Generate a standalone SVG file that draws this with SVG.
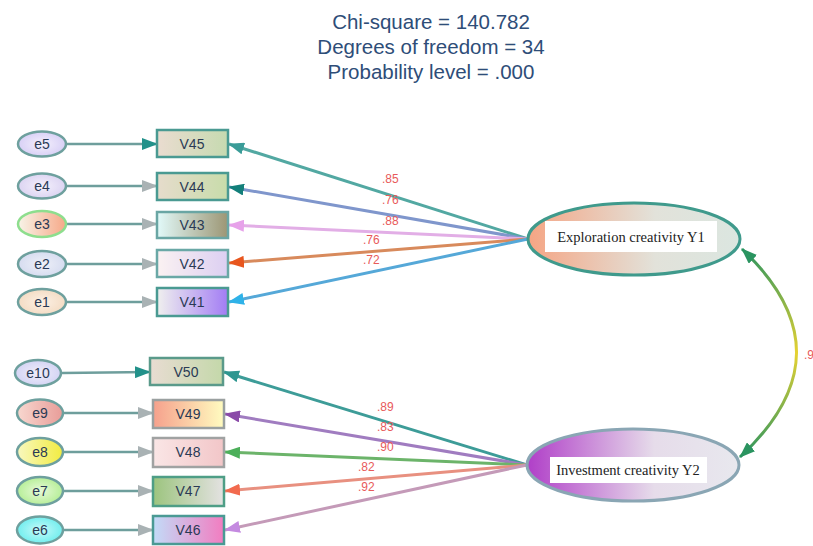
<svg xmlns="http://www.w3.org/2000/svg" width="813" height="546" viewBox="0 0 813 546">
<style>
.title{font-family:"Liberation Sans",Arial,sans-serif;font-size:20.5px;fill:#2e4d78;text-anchor:middle}
.lbl{font-family:"Liberation Sans",Arial,sans-serif;font-size:14px;fill:#2a3a55;text-anchor:middle;dominant-baseline:central}
.lat{font-family:"Liberation Serif","Times New Roman",serif;font-size:14.5px;fill:#222;text-anchor:middle;dominant-baseline:central}
.w{font-family:"Liberation Sans",Arial,sans-serif;font-size:12px;fill:#e85a5a}
.err{stroke:#6e9e9c;stroke-width:2.5}
.box{stroke:#4a9a92;stroke-width:2.5}
.ec{stroke:#6ea09e;stroke-width:2.5}
.ld{stroke-width:3;fill:none}
</style>
<defs>
<marker id="ag" markerUnits="userSpaceOnUse" markerWidth="16" markerHeight="12" refX="15" refY="6" orient="auto"><path d="M0,0 L16,6 L0,12 Z" fill="#a9b2b4"/></marker>
<marker id="at" markerUnits="userSpaceOnUse" markerWidth="16" markerHeight="12" refX="15" refY="6" orient="auto"><path d="M0,0 L16,6 L0,12 Z" fill="#22918a"/></marker>
<marker id="m45" markerUnits="userSpaceOnUse" markerWidth="16" markerHeight="12" refX="15" refY="6" orient="auto"><path d="M0,0 L16,6 L0,12 Z" fill="#3a9c98"/></marker>
<marker id="m44" markerUnits="userSpaceOnUse" markerWidth="16" markerHeight="12" refX="15" refY="6" orient="auto"><path d="M0,0 L16,6 L0,12 Z" fill="#137f7a"/></marker>
<marker id="m43" markerUnits="userSpaceOnUse" markerWidth="16" markerHeight="12" refX="15" refY="6" orient="auto"><path d="M0,0 L16,6 L0,12 Z" fill="#e7a2ea"/></marker>
<marker id="m42" markerUnits="userSpaceOnUse" markerWidth="16" markerHeight="12" refX="15" refY="6" orient="auto"><path d="M0,0 L16,6 L0,12 Z" fill="#e8561e"/></marker>
<marker id="m41" markerUnits="userSpaceOnUse" markerWidth="16" markerHeight="12" refX="15" refY="6" orient="auto"><path d="M0,0 L16,6 L0,12 Z" fill="#2fb2e8"/></marker>
<marker id="m50" markerUnits="userSpaceOnUse" markerWidth="16" markerHeight="12" refX="15" refY="6" orient="auto"><path d="M0,0 L16,6 L0,12 Z" fill="#2e9690"/></marker>
<marker id="m49" markerUnits="userSpaceOnUse" markerWidth="16" markerHeight="12" refX="15" refY="6" orient="auto"><path d="M0,0 L16,6 L0,12 Z" fill="#8a4aa8"/></marker>
<marker id="m48" markerUnits="userSpaceOnUse" markerWidth="16" markerHeight="12" refX="15" refY="6" orient="auto"><path d="M0,0 L16,6 L0,12 Z" fill="#4caf5a"/></marker>
<marker id="m47" markerUnits="userSpaceOnUse" markerWidth="16" markerHeight="12" refX="15" refY="6" orient="auto"><path d="M0,0 L16,6 L0,12 Z" fill="#f26a4e"/></marker>
<marker id="m46" markerUnits="userSpaceOnUse" markerWidth="16" markerHeight="12" refX="15" refY="6" orient="auto"><path d="M0,0 L16,6 L0,12 Z" fill="#c48ae0"/></marker>
<marker id="mc" markerUnits="userSpaceOnUse" markerWidth="16" markerHeight="12" refX="15" refY="6" orient="auto-start-reverse"><path d="M0,0 L16,6 L0,12 Z" fill="#2a9460"/></marker>
<linearGradient id="gc" gradientUnits="userSpaceOnUse" x1="0" y1="248" x2="0" y2="458"><stop offset="0" stop-color="#2a9460"/><stop offset="0.5" stop-color="#e6d232"/><stop offset="1" stop-color="#2a9460"/></linearGradient>
<linearGradient id="gY1"><stop offset="0" stop-color="#f5a584"/><stop offset="0.6" stop-color="#e2e2da"/><stop offset="1" stop-color="#dbe6e0"/></linearGradient>
<linearGradient id="gY2"><stop offset="0" stop-color="#b03ec8"/><stop offset="0.6" stop-color="#e6dcea"/><stop offset="1" stop-color="#e8e8ee"/></linearGradient>
<linearGradient id="gv45"><stop offset="0" stop-color="#eadcd0"/><stop offset="1" stop-color="#c6dab0"/></linearGradient>
<linearGradient id="gv44"><stop offset="0" stop-color="#e6dccc"/><stop offset="1" stop-color="#c8dcaa"/></linearGradient>
<linearGradient id="gv43"><stop offset="0" stop-color="#e2fafa"/><stop offset="1" stop-color="#9c9674"/></linearGradient>
<linearGradient id="gv42"><stop offset="0" stop-color="#fbf2f2"/><stop offset="1" stop-color="#dccff2"/></linearGradient>
<linearGradient id="gv41"><stop offset="0" stop-color="#f0f0ee"/><stop offset="1" stop-color="#a27cf4"/></linearGradient>
<linearGradient id="gv50"><stop offset="0" stop-color="#e8dcd2"/><stop offset="1" stop-color="#c4d8aa"/></linearGradient>
<linearGradient id="gv49"><stop offset="0" stop-color="#f6a08c"/><stop offset="1" stop-color="#fffcc0"/></linearGradient>
<linearGradient id="gv48"><stop offset="0" stop-color="#fae6e6"/><stop offset="1" stop-color="#f2c6c8"/></linearGradient>
<linearGradient id="gv47"><stop offset="0" stop-color="#9cc47e"/><stop offset="1" stop-color="#e4e2e2"/></linearGradient>
<linearGradient id="gv46"><stop offset="0" stop-color="#c2dcf8"/><stop offset="1" stop-color="#f27cc0"/></linearGradient>
<radialGradient id="ge5"><stop offset="0" stop-color="#f4f0fc"/><stop offset="1" stop-color="#d8d0f6"/></radialGradient>
<radialGradient id="ge4"><stop offset="0" stop-color="#f4f0fc"/><stop offset="1" stop-color="#dcd4f2"/></radialGradient>
<linearGradient id="ge3"><stop offset="0" stop-color="#f8f4e8"/><stop offset="1" stop-color="#f6a888"/></linearGradient>
<radialGradient id="ge2"><stop offset="0" stop-color="#eef0f8"/><stop offset="1" stop-color="#d6dcf0"/></radialGradient>
<radialGradient id="ge1"><stop offset="0" stop-color="#fcf0e4"/><stop offset="1" stop-color="#f4dcc4"/></radialGradient>
<radialGradient id="ge10"><stop offset="0" stop-color="#f0eefa"/><stop offset="1" stop-color="#d4d4f4"/></radialGradient>
<linearGradient id="ge9"><stop offset="0" stop-color="#f8d8d0"/><stop offset="1" stop-color="#e89c98"/></linearGradient>
<linearGradient id="ge8"><stop offset="0" stop-color="#f8f8c0"/><stop offset="1" stop-color="#f2ec40"/></linearGradient>
<radialGradient id="ge7"><stop offset="0" stop-color="#e8fad8"/><stop offset="1" stop-color="#b6ee98"/></radialGradient>
<radialGradient id="ge6"><stop offset="0" stop-color="#c8fafa"/><stop offset="1" stop-color="#72eeee"/></radialGradient>
</defs>
<rect width="813" height="546" fill="#ffffff"/>
<g id="title">
<text class="title" x="431" y="29">Chi-square = 140.782</text>
<text class="title" x="431" y="54">Degrees of freedom = 34</text>
<text class="title" x="431" y="79">Probability level = .000</text>
</g>
<g id="connectors">
<line class="err" x1="66" y1="144" x2="157" y2="144" marker-end="url(#at)"/>
<line class="err" x1="66" y1="186" x2="157" y2="186" marker-end="url(#ag)"/>
<line class="err" x1="66" y1="224" x2="157" y2="224" marker-end="url(#ag)"/>
<line class="err" x1="66" y1="264" x2="157" y2="264" marker-end="url(#ag)"/>
<line class="err" x1="66" y1="302" x2="157" y2="302" marker-end="url(#ag)"/>
<line class="err" x1="62" y1="373" x2="150" y2="372" marker-end="url(#at)"/>
<line class="err" x1="63" y1="413" x2="153" y2="413" marker-end="url(#ag)"/>
<line class="err" x1="63" y1="452" x2="153" y2="452" marker-end="url(#ag)"/>
<line class="err" x1="63" y1="491" x2="153" y2="491" marker-end="url(#ag)"/>
<line class="err" x1="63" y1="530" x2="153" y2="530" marker-end="url(#ag)"/>
<line class="ld" stroke="#52a8a2" x1="528" y1="239" x2="229" y2="144" marker-end="url(#m45)"/>
<line class="ld" stroke="#7f96cc" x1="528" y1="239" x2="229" y2="187" marker-end="url(#m44)"/>
<line class="ld" stroke="#e2aee6" x1="528" y1="239" x2="229" y2="225" marker-end="url(#m43)"/>
<line class="ld" stroke="#d88a5c" x1="528" y1="239" x2="229" y2="263" marker-end="url(#m42)"/>
<line class="ld" stroke="#55a8d8" x1="528" y1="239" x2="229" y2="302" marker-end="url(#m41)"/>
<line class="ld" stroke="#3d9c98" x1="527" y1="465" x2="224" y2="372" marker-end="url(#m50)"/>
<line class="ld" stroke="#a07cc0" x1="527" y1="465" x2="225" y2="414" marker-end="url(#m49)"/>
<line class="ld" stroke="#6cb46a" x1="527" y1="465" x2="225" y2="452" marker-end="url(#m48)"/>
<line class="ld" stroke="#e89080" x1="527" y1="465" x2="225" y2="491" marker-end="url(#m47)"/>
<line class="ld" stroke="#c49ab8" x1="527" y1="465" x2="225" y2="530" marker-end="url(#m46)"/>
<path d="M742,249 Q852,353 740,457" fill="none" stroke="url(#gc)" stroke-width="3" marker-start="url(#mc)" marker-end="url(#mc)"/>
<text class="w" x="382" y="183">.85</text>
<text class="w" x="382" y="204">.76</text>
<text class="w" x="382" y="225">.88</text>
<text class="w" x="363" y="244">.76</text>
<text class="w" x="363" y="264">.72</text>
<text class="w" x="377" y="411">.89</text>
<text class="w" x="377" y="431">.83</text>
<text class="w" x="377" y="451">.90</text>
<text class="w" x="358" y="471">.82</text>
<text class="w" x="358" y="491">.92</text>
<text class="w" x="804" y="359">.9</text>
</g>
<g id="e5"><ellipse class="ec" cx="42" cy="144" rx="24" ry="12.5" fill="url(#ge5)"/><text class="lbl" x="42" y="144">e5</text></g>
<g id="e4"><ellipse class="ec" cx="42" cy="186" rx="24" ry="12.5" fill="url(#ge4)"/><text class="lbl" x="42" y="186">e4</text></g>
<g id="e3"><ellipse class="ec" cx="42" cy="224" rx="24" ry="13" fill="url(#ge3)" style="stroke:#8ede8e"/><text class="lbl" x="42" y="224">e3</text></g>
<g id="e2"><ellipse class="ec" cx="42" cy="264" rx="24" ry="13" fill="url(#ge2)"/><text class="lbl" x="42" y="264">e2</text></g>
<g id="e1"><ellipse class="ec" cx="42" cy="302" rx="24" ry="13" fill="url(#ge1)"/><text class="lbl" x="42" y="302">e1</text></g>
<g id="e10"><ellipse class="ec" cx="38" cy="373" rx="23" ry="13" fill="url(#ge10)"/><text class="lbl" x="38" y="373">e10</text></g>
<g id="e9"><ellipse class="ec" cx="40" cy="413" rx="23" ry="13.5" fill="url(#ge9)"/><text class="lbl" x="40" y="413">e9</text></g>
<g id="e8"><ellipse class="ec" cx="40" cy="452" rx="23" ry="14" fill="url(#ge8)"/><text class="lbl" x="40" y="452">e8</text></g>
<g id="e7"><ellipse class="ec" cx="40" cy="491" rx="23" ry="14" fill="url(#ge7)"/><text class="lbl" x="40" y="491">e7</text></g>
<g id="e6"><ellipse class="ec" cx="40" cy="530" rx="23" ry="13.5" fill="url(#ge6)"/><text class="lbl" x="40" y="530">e6</text></g>
<g id="V45"><rect class="box" x="157" y="130" width="71" height="27" fill="url(#gv45)"/><text class="lbl" x="192" y="144">V45</text></g>
<g id="V44"><rect class="box" x="157" y="173" width="71" height="27" fill="url(#gv44)"/><text class="lbl" x="192" y="187">V44</text></g>
<g id="V43"><rect class="box" x="157" y="212" width="71" height="26" fill="url(#gv43)" style="stroke:#6aa6a4"/><text class="lbl" x="192" y="225">V43</text></g>
<g id="V42"><rect class="box" x="157" y="250" width="71" height="27" fill="url(#gv42)" style="stroke:#6aa8a6"/><text class="lbl" x="192" y="264">V42</text></g>
<g id="V41"><rect class="box" x="157" y="288" width="71" height="28" fill="url(#gv41)"/><text class="lbl" x="192" y="302">V41</text></g>
<g id="V50"><rect class="box" x="150" y="358" width="73" height="27" fill="url(#gv50)" style="stroke:#5a9a8a"/><text class="lbl" x="186" y="372">V50</text></g>
<g id="V49"><rect class="box" x="153" y="400" width="71" height="28" fill="url(#gv49)" style="stroke:#9aa0a0"/><text class="lbl" x="188" y="414">V49</text></g>
<g id="V48"><rect class="box" x="153" y="438" width="71" height="29" fill="url(#gv48)" style="stroke:#a0a2a2"/><text class="lbl" x="188" y="452">V48</text></g>
<g id="V47"><rect class="box" x="153" y="477" width="71" height="29" fill="url(#gv47)" style="stroke:#4e9e86"/><text class="lbl" x="188" y="491">V47</text></g>
<g id="V46"><rect class="box" x="153" y="516" width="71" height="28" fill="url(#gv46)" style="stroke:#4a9a94"/><text class="lbl" x="188" y="530">V46</text></g>
<g id="Y1"><ellipse cx="634" cy="239" rx="106" ry="36" fill="url(#gY1)" stroke="#3f9a8c" stroke-width="3"/><rect x="545" y="221" width="172" height="31" fill="#ffffff"/><text class="lat" x="631" y="236.5">Exploration creativity Y1</text></g>
<g id="Y2"><ellipse cx="633" cy="465" rx="106" ry="36" fill="url(#gY2)" stroke="#8aa6b4" stroke-width="3"/><rect x="550" y="457" width="157" height="26" fill="#ffffff"/><text class="lat" x="628" y="470">Investment creativity Y2</text></g>
</svg>
